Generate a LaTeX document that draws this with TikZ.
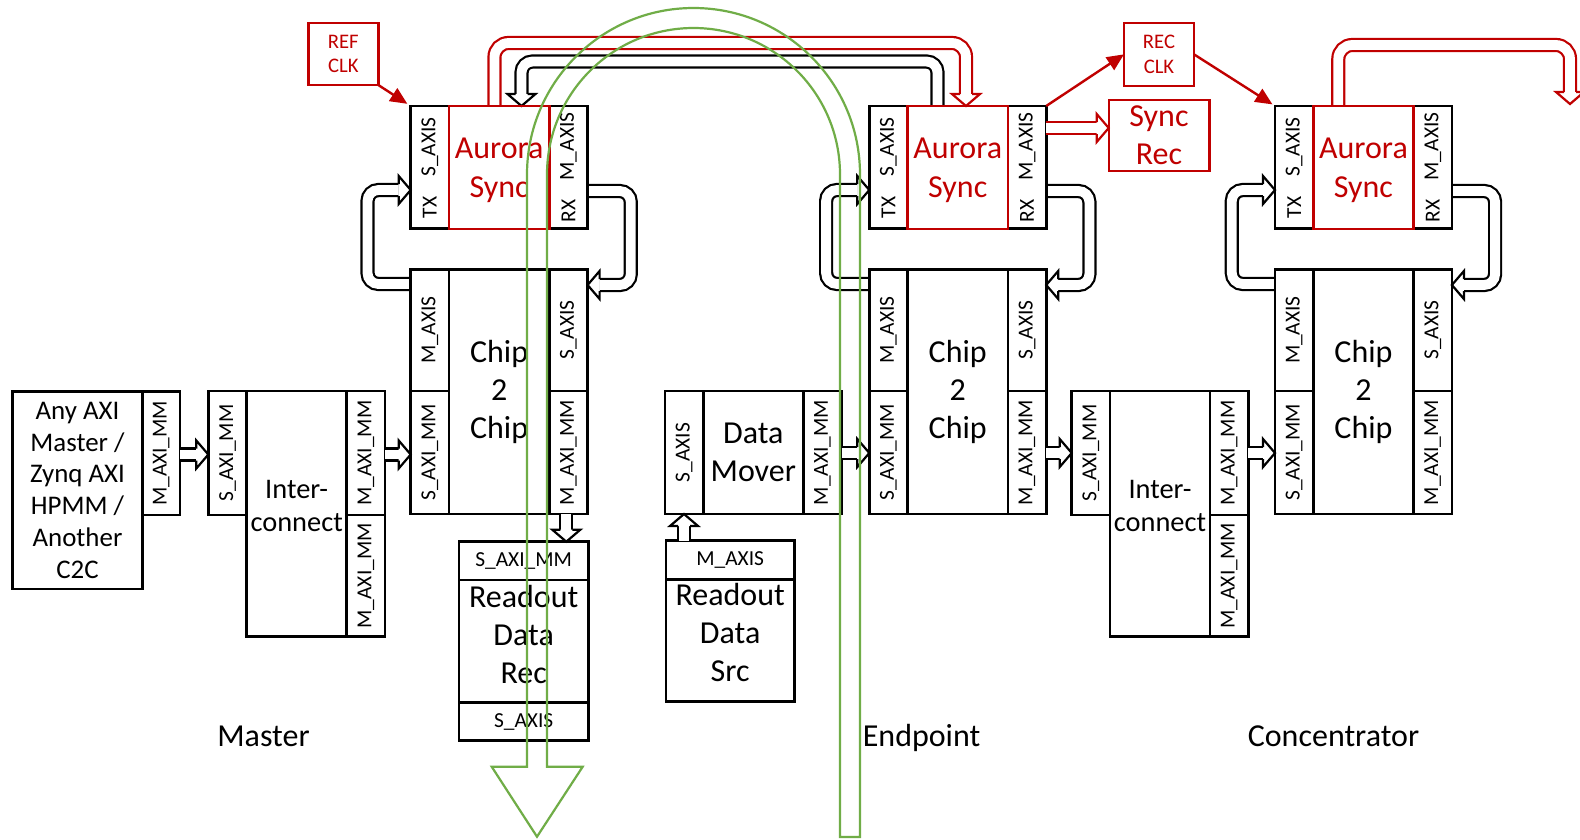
\documentclass[tikz,border=0pt]{standalone}
\usepackage{fontspec}
\setmainfont{Carlito}
\usetikzlibrary{arrows.meta}
\definecolor{ared}{RGB}{192,0,0}
\definecolor{agreen}{RGB}{112,173,71}
\tikzset{
  t31/.style={font=\fontsize{32}{38}\selectfont},
  blk/.style={draw=black, line width=2.6pt, inner sep=0pt, outer sep=0pt, anchor=north west, align=center, t31},
  rblk/.style={blk, draw=ared, text=ared, line width=2.4pt},
  lbl/.style={font=\fontsize{21.4}{25}\selectfont, inner sep=0pt, rotate=90},
  smallblk/.style={blk, font=\fontsize{21.4}{25}\selectfont},
  clkblk/.style={rblk, font=\fontsize{20.7}{24.5}\selectfont},
  rtxt/.style={text=ared, align=center, inner sep=0pt, font=\fontsize{32}{39}\selectfont},
  midtxt/.style={align=center, inner sep=0pt, t31},
  hl/.style={draw=black, double=white, line width=2.2pt, double distance=9.8pt, rounded corners=11pt},
  rhl/.style={hl, draw=ared},
  clk/.style={draw=ared, line width=2.4pt, -{Triangle[length=17pt,width=15pt]}},
  grn/.style={draw=agreen, line width=2.2pt, line join=miter},
  captxt/.style={font=\fontsize{32}{38}\selectfont, anchor=base, inner sep=0pt}
}
% box: style, x, y (north west), width, height, name, text
\newcommand\bx[7]{\node[#1, minimum width=#4pt, minimum height=#5pt] (#6) at (#2,#3) {#7};}
% hollow arrow head: colour, tip coordinate, direction
\newcommand\hollowtip[3]{%
  \begin{scope}[shift={#2},rotate=#3]
    \fill[white] (-12,-14) -- (0,0) -- (-12,14) -- cycle;
    \draw[#1,line width=2.2pt,line join=miter] (-12,-6) -- (-12,-14) -- (0,0) -- (-12,14) -- (-12,6);
  \end{scope}}
% straight hollow arrow from node #1 (east) to node #2 (west) at height #3
\newcommand\harr[3]{%
  \draw[hl, shorten >=12pt] (#1.east |- 0,#3) -- (#2.west |- 0,#3);
  \hollowtip{black}{(#2.west |- 0,#3)}{0}}
% Aurora Sync + Chip2Chip unit: prefix, left x
\newcommand\aunit[2]{%
  \draw[hl] (#2,284) -- (#2-43.2,284) -- (#2-43.2,190) -- (#2-12,190);
  \hollowtip{black}{(#2,190)}{0}
  \draw[hl] (#2+176.9,191) -- (#2+220.1,191) -- (#2+220.1,285) -- (#2+188.9,285);
  \hollowtip{black}{(#2+176.9,285)}{180}
  \bx{blk}{#2}{106}{38.3}{122.7}{#1A-tx}{}
  \bx{blk}{#2+138.6}{106}{38.3}{122.7}{#1A-rx}{}
  \bx{rblk}{#2+38.3}{106}{100.3}{122.7}{#1A}{}
  \node[rtxt] (#1A-t) at (#2+88.45,170.4) {Aurora\\Sync};
  \node[lbl] (#1A-l1) at (#2+19.15,147) {S\_AXIS};
  \node[lbl] (#1A-l2) at (#2+19.15,207.5) {TX};
  \node[lbl] (#1A-l3) at (#2+157.75,146.5) {M\_AXIS};
  \node[lbl] (#1A-l4) at (#2+157.75,211) {RX};
  \bx{blk}{#2}{269.3}{38.3}{121.7}{#1C-ma}{}
  \bx{blk}{#2}{391}{38.3}{123}{#1C-sa}{}
  \bx{blk}{#2+38.3}{269.3}{100.3}{244.7}{#1C}{Chip\\2\\Chip}
  \bx{blk}{#2+138.6}{269.3}{38.3}{121.7}{#1C-ss}{}
  \bx{blk}{#2+138.6}{391}{38.3}{123}{#1C-mm}{}
  \node[lbl] at (#1C-ma) {M\_AXIS};
  \node[lbl] at (#1C-sa) {S\_AXI\_MM};
  \node[lbl] at (#1C-ss) {S\_AXIS};
  \node[lbl] at (#1C-mm) {M\_AXI\_MM};
}
\begin{document}
\begin{tikzpicture}[x=1pt,y=-1pt]
\useasboundingbox (0,0) rectangle (1580,839);
\clip (0,0) rectangle (1580,839);
\fill[white] (0,0) rectangle (1580,839);

% top connectors between Aurora blocks
\draw[rhl, rounded corners=14pt] (494.5,106) -- (494.5,43) -- (966,43) -- (966,94);
\hollowtip{ared}{(966,106)}{-90}
\draw[hl] (937.5,106) -- (937.5,61.5) -- (521.5,61.5) -- (521.5,94);
\hollowtip{black}{(521.5,106)}{-90}
\draw[rhl, rounded corners=14pt] (1338.3,106) -- (1338.3,45) -- (1570,45) -- (1570,92);
\hollowtip{ared}{(1570,104)}{-90}

% units
\aunit{m}{410.7}
\aunit{e}{869.3}
\aunit{c}{1275}

% clock boxes
\bx{clkblk}{308.3}{22.7}{70}{62.3}{refclk}{REF\\CLK}
\bx{clkblk}{1124}{22.7}{70}{63.3}{recclk}{REC\\CLK}
\bx{rblk}{1108.7}{100}{100.6}{70.7}{syncrec}{Sync\\Rec}
\draw[clk, shorten >=4pt] (refclk.south east) -- (mA-tx.north west);
\draw[clk] (eA-rx.north east) -- (recclk.west);
\draw[clk, shorten >=3pt] (recclk.east) -- (cA-tx.north west);
\draw[rhl, shorten >=12pt] (eA-rx.east |- 0,128) -- (syncrec.west |- 0,128);
\hollowtip{ared}{(syncrec.west |- 0,128)}{0}

% master side
\bx{blk}{12.7}{391.7}{129.6}{197.3}{anym}{}
\node[align=center, inner sep=0pt, font=\fontsize{26.9}{31.8}\selectfont] at (anym) {Any AXI\\Master /\\Zynq AXI\\HPMM /\\Another\\C2C};
\bx{blk}{142.3}{391.7}{37.7}{123.3}{anym-m}{}
\node[lbl] at (anym-m) {M\_AXI\_MM};
\bx{blk}{208.3}{391}{38.4}{124}{mi-s}{}
\bx{blk}{246.7}{391}{100}{245.7}{mi}{}
\bx{blk}{346.7}{391}{38.3}{124}{mi-m1}{}
\bx{blk}{346.7}{515}{38.3}{121.7}{mi-m2}{}
\node[align=center, inner sep=0pt, font=\fontsize{28.4}{33.5}\selectfont] at (296.7,506) {Inter-\\connect};
\node[lbl] at (mi-s) {S\_AXI\_MM};
\node[lbl] at (mi-m1) {M\_AXI\_MM};
\node[lbl] at (mi-m2) {M\_AXI\_MM};
\harr{anym-m}{mi-s}{454.5}
\harr{mi-m1}{mC-sa}{454.5}

% readout data receiver
\bx{smallblk}{459}{541.7}{129.3}{38.3}{rr-t}{S\_AXI\_MM}
\bx{blk}{459}{580}{129.3}{122.3}{rr}{}
\bx{smallblk}{459}{702.3}{129.3}{38.4}{rr-b}{S\_AXIS}
\node[midtxt] at (523.65,634) {Readout\\Data\\Rec};
\draw[hl, shorten >=12pt] (566.3,514) -- (rr-t.north -| 566.3,0);
\hollowtip{black}{(rr-t.north -| 566.3,0)}{-90}

% data mover and source
\bx{blk}{665}{391}{38.3}{123}{dm-s}{}
\bx{blk}{703.3}{391}{100}{123}{dm}{Data\\Mover}
\bx{blk}{803.3}{391}{38.4}{123}{dm-m}{}
\node[lbl] at (dm-s) {S\_AXIS};
\node[lbl] at (dm-m) {M\_AXI\_MM};
\bx{smallblk}{666}{540.7}{128.3}{38.6}{rs-t}{M\_AXIS}
\bx{blk}{666}{579.3}{128.3}{122.4}{rs}{}
\node[midtxt] at (730.15,632.5) {Readout\\Data\\Src};
\draw[hl, shorten >=12pt] (rs-t.north -| 684,0) -- (684,514);
\hollowtip{black}{(684,514)}{90}
\harr{dm-m}{eC-sa}{453}

% concentrator interconnect
\bx{blk}{1071.7}{391}{38.3}{124}{ci-s}{}
\bx{blk}{1110}{391}{100}{245.7}{ci}{}
\bx{blk}{1210}{391}{38.3}{124}{ci-m1}{}
\bx{blk}{1210}{515}{38.3}{121.7}{ci-m2}{}
\node[align=center, inner sep=0pt, font=\fontsize{28.4}{33.5}\selectfont] at (1160,506) {Inter-\\connect};
\node[lbl] at (ci-s) {S\_AXI\_MM};
\node[lbl] at (ci-m1) {M\_AXI\_MM};
\node[lbl] at (ci-m2) {M\_AXI\_MM};
\harr{eC-mm}{ci-s}{453}
\harr{ci-m1}{cC-sa}{453}

% captions
\node[captxt] (lm) at (263.5,746.7) {Master};
\node[captxt] (le) at (921.6,746.7) {Endpoint};
\node[captxt] (lc) at (1333.5,746.7) {Concentrator};

% green loop arrow
\draw[grn] (840,837) -- (860,837) -- (860,174.5)
  arc[start angle=0, end angle=-180, radius=166.5]
  -- (527,766.7) -- (491.7,766.7) -- (537,836.7) -- (582.7,766.7) -- (547,766.7)
  -- (547,174.5) arc[start angle=-180, end angle=0, radius=146.5] -- cycle;
\end{tikzpicture}
\end{document}
